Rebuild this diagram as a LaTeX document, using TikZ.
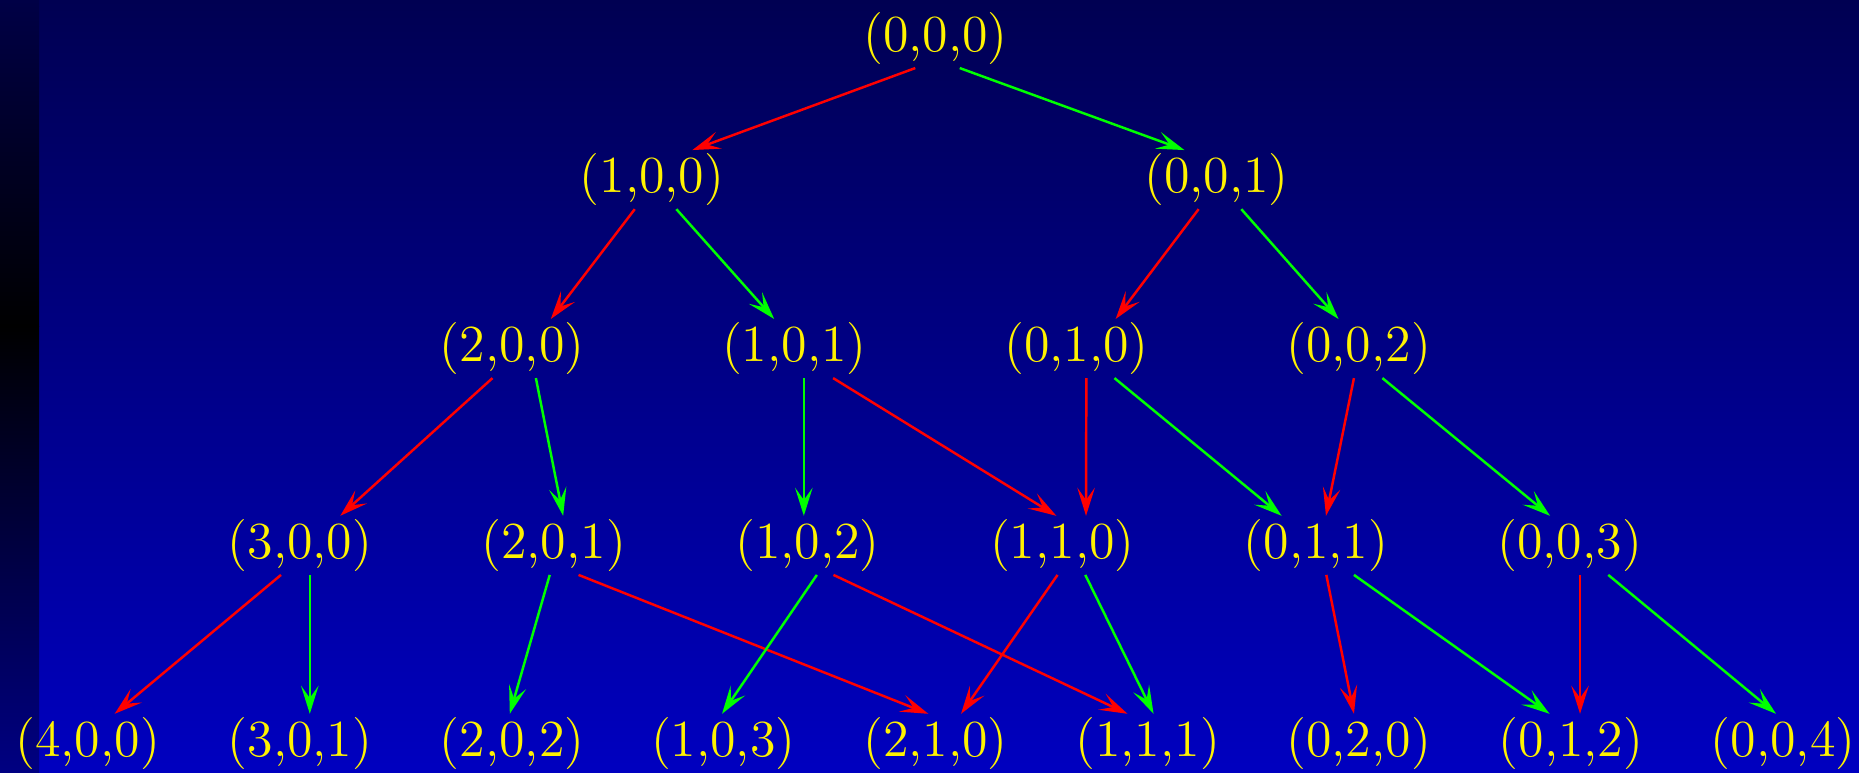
\documentclass[tikz,border=0pt]{standalone}
\usepackage{tikz}
\usetikzlibrary{arrows.meta}

\definecolor{bgtop}{RGB}{0,0,82}
\definecolor{bgbottom}{RGB}{0,0,192}
\definecolor{striptop}{RGB}{0,0,70}
\definecolor{stripbottom}{RGB}{0,0,130}
\definecolor{edgegreen}{RGB}{0,255,0}

\begin{document}
\begin{tikzpicture}[x=0.011856cm, y=-0.011856cm,
    >={Stealth[length=8pt, width=5pt, inset=3.5pt]}, line width=0.7pt,
    every node/.style={text=yellow, font=\fontsize{14.8pt}{17pt}\selectfont, inner sep=0pt, outer sep=1pt}]
                \useasboundingbox (0,0) rectangle (1568,652);
                \shade[top color=bgtop, bottom color=bgbottom] (33,0) rectangle (1568,652);
                \shade[top color=striptop, bottom color=black] (0,0) rectangle (33,275);
                \shade[top color=black, bottom color=stripbottom] (0,275) rectangle (33,652);
                
                \node (n000) at (789,32.5) {(0,0,0)};
                
                \node (n100) at (550,151.5) {(1,0,0)};
                \node (n001) at (1026,151.5) {(0,0,1)};
                
                \node (n200) at (432,294) {(2,0,0)};
                \node (n101) at (670,294) {(1,0,1)};
                \node (n010) at (908,294) {(0,1,0)};
                \node (n002) at (1146,294) {(0,0,2)};
                
                \node (n300) at (253,460) {(3,0,0)};
                \node (n201) at (467,460) {(2,0,1)};
                \node (n102) at (681,460) {(1,0,2)};
                \node (n110) at (896,460) {(1,1,0)};
                \node (n011) at (1110,460) {(0,1,1)};
                \node (n003) at (1324,460) {(0,0,3)};
                
                \node (n400) at (74,627) {(4,0,0)};
                \node (n301) at (253,627) {(3,0,1)};
                \node (n202) at (432,627) {(2,0,2)};
                \node (n103) at (610,627) {(1,0,3)};
                \node (n210) at (789,627) {(2,1,0)};
                \node (n111) at (968,627) {(1,1,1)};
                \node (n020) at (1146,627) {(0,2,0)};
                \node (n012) at (1325,627) {(0,1,2)};
                \node (n004) at (1504,627) {(0,0,4)};
                
                \draw[->, red] ([shift={(-17,0)}]n000.south) -- ([shift={(34,0)}]n100.north);
                \draw[->, edgegreen] ([shift={(20.5,0)}]n000.south) -- ([shift={(-27,0)}]n001.north);
                
                \draw[->, red] ([shift={(-14.6,0)}]n100.south) -- ([shift={(32.6,0)}]n200.north);
                \draw[->, edgegreen] ([shift={(20.5,0)}]n100.south) -- ([shift={(-17,0)}]n101.north);
                \draw[->, red] ([shift={(-15,0)}]n001.south) -- ([shift={(33,0)}]n010.north);
                \draw[->, edgegreen] ([shift={(21,0)}]n001.south) -- ([shift={(-17,0)}]n002.north);
                
                \draw[->, red] ([shift={(-16.6,0)}]n200.south) -- ([shift={(34,0)}]n300.north);
                \draw[->, edgegreen] ([shift={(20,0)}]n200.south) -- ([shift={(8,0)}]n201.north);
                \draw[->, edgegreen] ([shift={(8,0)}]n101.south) -- ([shift={(-3,0)}]n102.north);
                \draw[->, red] ([shift={(32.7,0)}]n101.south) -- ([shift={(-5,0)}]n110.north);
                \draw[->, red] ([shift={(8.3,0)}]n010.south) -- ([shift={(20,0)}]n110.north);
                \draw[->, edgegreen] ([shift={(32,0)}]n010.south) -- ([shift={(-29,0)}]n011.north);
                \draw[->, red] ([shift={(-4,0)}]n002.south) -- ([shift={(8.4,0)}]n011.north);
                \draw[->, edgegreen] ([shift={(20,0)}]n002.south) -- ([shift={(-16.6,0)}]n003.north);
                
                \draw[->, red] ([shift={(-16,0)}]n300.south) -- ([shift={(22.7,0)}]n400.north);
                \draw[->, edgegreen] ([shift={(8.3,0)}]n300.south) -- ([shift={(8.3,0)}]n301.north);
                \draw[->, edgegreen] ([shift={(-3.3,0)}]n201.south) -- ([shift={(-2,0)}]n202.north);
                \draw[->, red] ([shift={(21,0)}]n201.south) -- ([shift={(-6,0)}]n210.north);
                \draw[->, edgegreen] ([shift={(8,0)}]n102.south) -- ([shift={(-1,0)}]n103.north);
                \draw[->, red] ([shift={(22,0)}]n102.south) -- ([shift={(-17,0)}]n111.north);
                \draw[->, red] ([shift={(-4,0)}]n110.south) -- ([shift={(21.6,0)}]n210.north);
                \draw[->, edgegreen] ([shift={(19.4,0)}]n110.south) -- ([shift={(5,0)}]n111.north);
                \draw[->, red] ([shift={(8.7,0)}]n011.south) -- ([shift={(-4,0)}]n020.north);
                \draw[->, edgegreen] ([shift={(32,0)}]n011.south) -- ([shift={(-18,0)}]n012.north);
                \draw[->, red] ([shift={(8.7,0)}]n003.south) -- ([shift={(7.7,0)}]n012.north);
                \draw[->, edgegreen] ([shift={(32.5,0)}]n003.south) -- ([shift={(-6,0)}]n004.north);
            \end{tikzpicture}
\end{document}
